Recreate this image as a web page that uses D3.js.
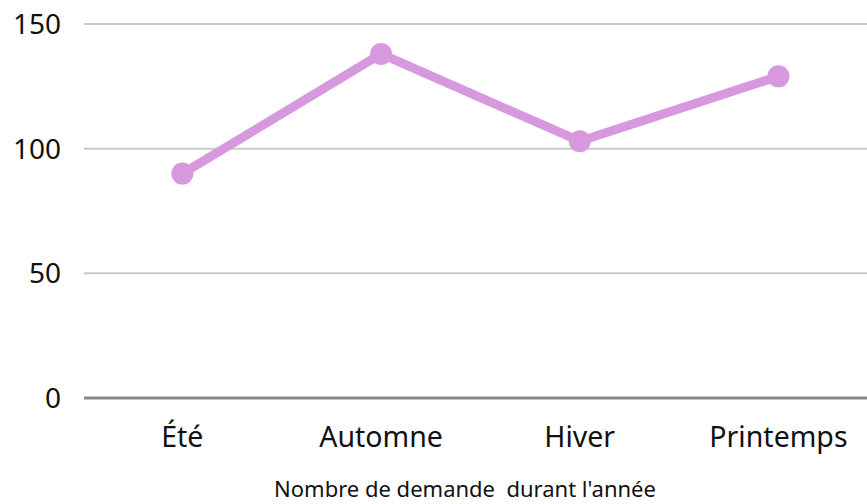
<!DOCTYPE html>
<html>
<head>
    <meta charset="utf-8">
    <script src="https://cdn.jsdelivr.net/npm/d3@7/dist/d3.min.js"></script>
    <style>
        body { margin: 0; background: #fff; }
        svg text { font-family: "Noto Sans", sans-serif; fill: #111; }
    </style>
</head>
<body>
<div id="chart"></div>
<script>
    // data
    var seasons = ["Été", "Automne", "Hiver", "Printemps"];
    var demandes = [90, 138, 103, 129];
    var yTicks = [0, 50, 100, 150];
    var xTitle = "Nombre de demande\u00a0 durant l'année";

    var W = 867, H = 504;
    var plotL = 84, plotR = 867, plotT = 24, plotB = 398;

    var svg = d3.select("#chart").append("svg")
        .attr("width", W)
        .attr("height", H);

    var x = d3.scaleBand()
        .domain(seasons)
        .range([plotL - 1, plotL - 1 + 4 * 198.7])
        .padding(0);

    var y = d3.scaleLinear()
        .domain([0, 150])
        .range([plotB, plotT]);

    // gridlines
    svg.append("g")
        .selectAll("line")
        .data(yTicks.filter(function(d) { return d > 0; }))
        .join("line")
            .attr("x1", plotL)
            .attr("x2", plotR)
            .attr("y1", function(d) { return y(d); })
            .attr("y2", function(d) { return y(d); })
            .attr("stroke", "#c8c8c8")
            .attr("stroke-width", 2);

    // baseline
    svg.append("line")
        .attr("x1", plotL)
        .attr("x2", plotR)
        .attr("y1", y(0))
        .attr("y2", y(0))
        .attr("stroke", "#888")
        .attr("stroke-width", 3);

    // y labels
    svg.append("g")
        .selectAll("text")
        .data(yTicks)
        .join("text")
            .attr("x", 61)
            .attr("y", function(d) { return y(d); })
            .attr("dy", "0.36em")
            .attr("text-anchor", "end")
            .style("font-size", "28px")
            .text(function(d) { return d; });

    // x labels
    svg.append("g")
        .selectAll("text")
        .data(seasons)
        .join("text")
            .attr("x", function(d) { return x(d) + x.bandwidth() / 2; })
            .attr("y", 447)
            .attr("text-anchor", "middle")
            .style("font-size", "28.5px")
            .text(function(d) { return d; });

    // axis title
    svg.append("text")
        .attr("x", 465)
        .attr("y", 497)
        .attr("text-anchor", "middle")
        .style("font-size", "22px")
        .text(xTitle);

    var pts = seasons.map(function(s, i) { return [x(s) + x.bandwidth() / 2, y(demandes[i])]; });

    svg.append("path")
        .datum(pts)
        .attr("fill", "none")
        .attr("stroke", "#d898de")
        .attr("stroke-width", 9)
        .attr("stroke-linejoin", "round")
        .attr("d", d3.line());

    svg.append("g")
        .selectAll("circle")
        .data(pts)
        .join("circle")
            .attr("cx", function(d) { return d[0]; })
            .attr("cy", function(d) { return d[1]; })
            .attr("r", 11)
            .attr("fill", "#d898de");
</script>
</body>
</html>
